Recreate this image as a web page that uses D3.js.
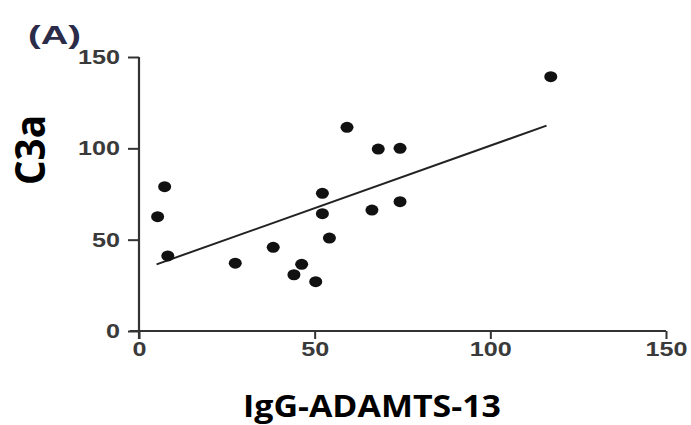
<!doctype html>
<html>
<head>
<meta charset="utf-8">
<style>
  body { margin: 0; background: #fff; }
  svg text { font-family: "Liberation Sans", Arial, sans-serif; }
</style>
<script src="https://d3js.org/d3.v7.min.js"></script>
</head>
<body>
<svg width="691" height="425"></svg>
<script>
// values
var igg = [117.2, 59.2, 68.1, 74.3, 7.3, 52.2, 5.3, 52.2, 66.3, 74.3, 54.2, 8.2, 38.2, 27.4, 46.3, 44.1, 50.3];
var c3a = [139.2, 111.5, 99.6, 100.0, 79.0, 75.4, 62.6, 64.2, 66.2, 70.8, 50.9, 41.1, 45.8, 37.1, 36.5, 30.8, 27.0];
var fitX = [5.0, 116.0];
var fitY = [36.5, 112.4];
var ticks = [0, 50, 100, 150];

var svg = d3.select("svg");
var x = d3.scaleLinear().domain([0, 150]).range([139, 666]);
var y = d3.scaleLinear().domain([0, 150]).range([331, 57]);

var xAxis = svg.append("g")
    .attr("transform", "translate(0,331)")
    .call(d3.axisBottom(x).tickValues(ticks).tickSize(8).tickPadding(3));
var yAxis = svg.append("g")
    .attr("transform", "translate(139,0)")
    .call(d3.axisLeft(y).tickValues(ticks).tickSize(11).tickPadding(8));

[xAxis, yAxis].forEach(function(g) {
  g.select(".domain").attr("stroke", "#333").attr("stroke-width", 2.2);
  g.selectAll(".tick line").attr("stroke", "#333").attr("stroke-width", 2);
  g.selectAll(".tick text")
    .attr("fill", "#3a3a3a")
    .attr("textLength", (d) => String(d).length * 14)
    .attr("lengthAdjust", "spacingAndGlyphs")
    .style("font-size", "20px")
    .style("font-weight", "bold");
});
xAxis.selectAll(".domain").attr("d", "M130,0H666");
yAxis.selectAll(".domain").attr("d", "M0,57V339");

// regression line
svg.append("line")
    .attr("x1", x(fitX[0])).attr("y1", y(fitY[0]))
    .attr("x2", x(fitX[1])).attr("y2", y(fitY[1]))
    .attr("stroke", "#222")
    .attr("stroke-width", 2);

svg.append("g").selectAll("ellipse")
    .data(igg).enter()
  .append("ellipse")
    .attr("cx", (d) => x(d))
    .attr("cy", (d, i) => y(c3a[i]))
    .attr("rx", 6.5)
    .attr("ry", 5.5)
    .attr("fill", "#111");

svg.append("text")
    .attr("x", 28).attr("y", 44)
    .text("(A)")
    .attr("textLength", 53)
    .attr("lengthAdjust", "spacingAndGlyphs")
    .style("font-size", "25px")
    .style("font-weight", "bold")
    .attr("fill", "#2b2b4a");

svg.append("text")
    .attr("transform", "translate(45,150) rotate(-90)")
    .attr("text-anchor", "middle")
    .text("C3a")
    .attr("textLength", 70)
    .attr("lengthAdjust", "spacingAndGlyphs")
    .style("font-family", "'Open Sans', sans-serif")
    .style("font-size", "41px")
    .style("font-weight", "bold")
    .attr("fill", "#000");

svg.append("text")
    .attr("x", 372).attr("y", 417)
    .attr("text-anchor", "middle")
    .text("IgG-ADAMTS-13")
    .attr("textLength", 258)
    .attr("lengthAdjust", "spacingAndGlyphs")
    .style("font-family", "'Open Sans', sans-serif")
    .style("font-size", "31px")
    .style("font-weight", "bold")
    .attr("fill", "#000");
</script>
</body>
</html>
